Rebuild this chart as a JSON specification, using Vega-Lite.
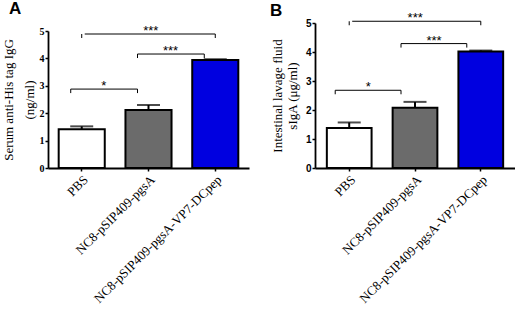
{
  "$schema": "https://vega.github.io/schema/vega-lite/v6.json",
  "background": "white",
  "padding": {"left": 1, "top": 0, "right": 0, "bottom": 0},
  "spacing": 21,
  "config": {
    "view": {"stroke": null},
    "axis": {"grid": false, "domainColor": "black", "tickColor": "black", "labelColor": "black", "titleColor": "black", "domainWidth": 1.8, "tickWidth": 1.5},
    "axisY": {"tickCount": 5, "labelOverlap": false, "labelBound": false},
    "title": {"font": "Liberation Sans", "fontWeight": "bold", "fontSize": 17, "color": "black", "anchor": "start", "frame": "group"}
  },
  "datasets": {
    "barsA": [
      {"group": "PBS", "value": 1.41, "upper": 1.52},
      {"group": "NC8-pSIP409-pgsA", "value": 2.12, "upper": 2.30},
      {"group": "NC8-pSIP409-pgsA-VP7-DCpep", "value": 3.94, "upper": 3.97}
    ],
    "brA": [
      {"from": "PBS", "to": "NC8-pSIP409-pgsA", "y": 2.88, "label": "*", "level": "low"},
      {"from": "NC8-pSIP409-pgsA", "to": "NC8-pSIP409-pgsA-VP7-DCpep", "y": 4.16, "label": "***", "level": "low"},
      {"from": "PBS", "to": "NC8-pSIP409-pgsA-VP7-DCpep", "y": 4.89, "label": "***", "level": "top"}
    ],
    "barsB": [
      {"group": "PBS", "value": 1.38, "upper": 1.57},
      {"group": "NC8-pSIP409-pgsA", "value": 2.08, "upper": 2.28},
      {"group": "NC8-pSIP409-pgsA-VP7-DCpep", "value": 4.02, "upper": 4.05}
    ],
    "brB": [
      {"from": "PBS", "to": "NC8-pSIP409-pgsA", "y": 2.68, "label": "*", "level": "low"},
      {"from": "NC8-pSIP409-pgsA", "to": "NC8-pSIP409-pgsA-VP7-DCpep", "y": 4.29, "label": "***", "level": "low"},
      {"from": "PBS", "to": "NC8-pSIP409-pgsA-VP7-DCpep", "y": 5.06, "label": "***", "level": "top"}
    ]
  },
  "hconcat": [
    {
      "width": 201,
      "height": 145,
      "title": {"text": "A", "dx": -39, "offset": 5},
      "encoding": {
        "x": {
          "field": "group", "type": "nominal", "title": null,
          "scale": {"domain": ["PBS", "NC8-pSIP409-pgsA", "NC8-pSIP409-pgsA-VP7-DCpep"], "paddingInner": 0.31, "paddingOuter": 0.16},
          "axis": {"labelAngle": -45, "labelAlign": "right", "labelBaseline": "top", "labelFont": "Liberation Serif", "labelFontSize": 13, "tickSize": 3, "labelPadding": 2}
        }
      },
      "layer": [
        {
          "data": {"name": "barsA"},
          "mark": {"type": "bar", "stroke": "black", "strokeWidth": 2},
          "encoding": {
            "y": {
              "field": "value", "type": "quantitative",
              "scale": {"domain": [0, 5], "nice": false, "range": [145, 8]},
              "axis": {"tickCount": 5, "labelFont": "Liberation Serif", "labelFontWeight": "bold", "labelFontSize": 10, "tickSize": 3, "labelPadding": 1,
                "title": ["Serum anti-His tag IgG", "(ng/ml)"], "titleFont": "Liberation Serif", "titleFontSize": 13, "titleFontWeight": "normal", "titleLineHeight": 21, "titlePadding": 3}
            },
            "color": {"field": "group", "type": "nominal", "legend": null,
              "scale": {"domain": ["PBS", "NC8-pSIP409-pgsA", "NC8-pSIP409-pgsA-VP7-DCpep"], "range": ["#ffffff", "#6b6b6b", "#0000e0"]}}
          }
        },
        {
          "data": {"name": "barsA"},
          "mark": {"type": "rule", "color": "black", "strokeWidth": 2},
          "encoding": {"y": {"field": "value", "type": "quantitative"}, "y2": {"field": "upper"}}
        },
        {
          "data": {"name": "barsA"},
          "mark": {"type": "tick", "color": "black", "thickness": 2, "size": 23},
          "encoding": {"y": {"field": "upper", "type": "quantitative"}}
        },
        {
          "data": {"name": "brA"},
          "transform": [{"filter": "datum.level === 'low'"}],
          "mark": {"type": "rule", "color": "black", "strokeWidth": 1, "xOffset": -11, "x2Offset": -11},
          "encoding": {"x": {"field": "from"}, "x2": {"field": "to"}, "y": {"field": "y", "type": "quantitative"}}
        },
        {
          "data": {"name": "brA"},
          "transform": [{"filter": "datum.level === 'low'"}, {"fold": ["from", "to"], "as": ["end", "at"]}],
          "mark": {"type": "rule", "color": "black", "strokeWidth": 1, "xOffset": -11, "y2Offset": 4},
          "encoding": {"x": {"field": "at"}, "y": {"field": "y", "type": "quantitative"}, "y2": {"field": "y"}}
        },
        {
          "data": {"name": "brA"},
          "transform": [{"filter": "datum.level === 'low'"}],
          "mark": {"type": "text", "font": "Liberation Sans", "fontSize": 13, "color": "black", "baseline": "alphabetic", "dx": 22, "dy": 1},
          "encoding": {"x": {"field": "from"}, "y": {"field": "y", "type": "quantitative"}, "text": {"field": "label"}}
        },
        {
          "data": {"name": "brA"},
          "transform": [{"filter": "datum.level === 'top'"}],
          "mark": {"type": "rule", "color": "black", "strokeWidth": 1, "xOffset": 3, "x2Offset": 0},
          "encoding": {"x": {"field": "from"}, "x2": {"field": "to"}, "y": {"field": "y", "type": "quantitative"}}
        },
        {
          "data": {"name": "brA"},
          "transform": [{"filter": "datum.level === 'top'"}, {"fold": ["from", "to"], "as": ["end", "at"]}],
          "mark": {"type": "rule", "color": "black", "strokeWidth": 1, "y2Offset": 4},
          "encoding": {"x": {"field": "at"}, "y": {"field": "y", "type": "quantitative"}, "y2": {"field": "y"}}
        },
        {
          "data": {"name": "brA"},
          "transform": [{"filter": "datum.level === 'top'"}],
          "mark": {"type": "text", "font": "Liberation Sans", "fontSize": 13, "color": "black", "baseline": "alphabetic", "dx": 69, "dy": 1},
          "encoding": {"x": {"field": "from"}, "y": {"field": "y", "type": "quantitative"}, "text": {"field": "label"}}
        }
      ]
    },
    {
      "width": 200,
      "height": 145,
      "title": {"text": "B", "dx": -45, "offset": -8},
      "encoding": {
        "x": {
          "field": "group", "type": "nominal", "title": null,
          "scale": {"domain": ["PBS", "NC8-pSIP409-pgsA", "NC8-pSIP409-pgsA-VP7-DCpep"], "paddingInner": 0.32, "paddingOuter": 0.18},
          "axis": {"labelAngle": -45, "labelAlign": "right", "labelBaseline": "top", "labelFont": "Liberation Serif", "labelFontSize": 13, "tickSize": 3, "labelPadding": 2}
        }
      },
      "layer": [
        {
          "data": {"name": "barsB"},
          "mark": {"type": "bar", "stroke": "black", "strokeWidth": 2},
          "encoding": {
            "y": {
              "field": "value", "type": "quantitative",
              "scale": {"domain": [0, 5], "nice": false},
              "axis": {"tickCount": 5, "labelFont": "Liberation Sans", "labelFontWeight": "bold", "labelFontSize": 10, "tickSize": 3, "labelPadding": 1,
                "title": ["Intestinal lavage fluid", "sIgA (μg/ml)"], "titleFont": "Liberation Serif", "titleFontSize": 13, "titleFontWeight": "normal", "titleLineHeight": 15, "titlePadding": 6}
            },
            "color": {"field": "group", "type": "nominal", "legend": null,
              "scale": {"domain": ["PBS", "NC8-pSIP409-pgsA", "NC8-pSIP409-pgsA-VP7-DCpep"], "range": ["#ffffff", "#6b6b6b", "#0000e0"]}}
          }
        },
        {
          "data": {"name": "barsB"},
          "mark": {"type": "rule", "color": "black", "strokeWidth": 2},
          "encoding": {"y": {"field": "value", "type": "quantitative"}, "y2": {"field": "upper"}}
        },
        {
          "data": {"name": "barsB"},
          "mark": {"type": "tick", "color": "black", "thickness": 2, "size": 23},
          "encoding": {"y": {"field": "upper", "type": "quantitative"}}
        },
        {
          "data": {"name": "brB"},
          "transform": [{"filter": "datum.level === 'low'"}],
          "mark": {"type": "rule", "color": "black", "strokeWidth": 1, "xOffset": -14, "x2Offset": -14},
          "encoding": {"x": {"field": "from"}, "x2": {"field": "to"}, "y": {"field": "y", "type": "quantitative"}}
        },
        {
          "data": {"name": "brB"},
          "transform": [{"filter": "datum.level === 'low'"}, {"fold": ["from", "to"], "as": ["end", "at"]}],
          "mark": {"type": "rule", "color": "black", "strokeWidth": 1, "xOffset": -14, "y2Offset": 4},
          "encoding": {"x": {"field": "at"}, "y": {"field": "y", "type": "quantitative"}, "y2": {"field": "y"}}
        },
        {
          "data": {"name": "brB"},
          "transform": [{"filter": "datum.level === 'low'"}],
          "mark": {"type": "text", "font": "Liberation Sans", "fontSize": 13, "color": "black", "baseline": "alphabetic", "dx": 19, "dy": 1},
          "encoding": {"x": {"field": "from"}, "y": {"field": "y", "type": "quantitative"}, "text": {"field": "label"}}
        },
        {
          "data": {"name": "brB"},
          "transform": [{"filter": "datum.level === 'top'"}],
          "mark": {"type": "rule", "color": "black", "strokeWidth": 1, "xOffset": 3, "x2Offset": 0},
          "encoding": {"x": {"field": "from"}, "x2": {"field": "to"}, "y": {"field": "y", "type": "quantitative"}}
        },
        {
          "data": {"name": "brB"},
          "transform": [{"filter": "datum.level === 'top'"}, {"fold": ["from", "to"], "as": ["end", "at"]}],
          "mark": {"type": "rule", "color": "black", "strokeWidth": 1, "y2Offset": 4},
          "encoding": {"x": {"field": "at"}, "y": {"field": "y", "type": "quantitative"}, "y2": {"field": "y"}}
        },
        {
          "data": {"name": "brB"},
          "transform": [{"filter": "datum.level === 'top'"}],
          "mark": {"type": "text", "font": "Liberation Sans", "fontSize": 13, "color": "black", "baseline": "alphabetic", "dx": 66, "dy": 1},
          "encoding": {"x": {"field": "from"}, "y": {"field": "y", "type": "quantitative"}, "text": {"field": "label"}}
        }
      ]
    }
  ]
}
